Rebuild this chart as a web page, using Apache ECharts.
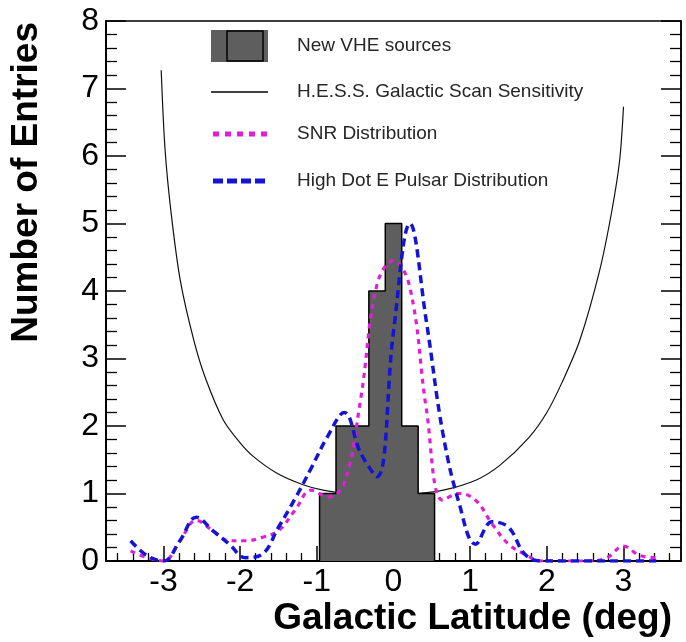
<!DOCTYPE html>
<html>
<head>
<meta charset="utf-8">
<script src="https://cdn.jsdelivr.net/npm/echarts@6/dist/echarts.min.js"></script>
<style>
html, body { margin: 0; padding: 0; background: #fff; }
#chart { width: 686px; height: 642px; }
</style>
</head>
<body>
<div id="chart"></div>
<script>
// Latitude binning used by all three histograms
const latMin = -3.75;
const latMax = 3.75;
const binCount = 35;

// New VHE sources per latitude bin
const newSourceCounts = [
  0, 0, 0, 0, 0, 0, 0, 0, 0, 0, 0, 0, 0,
  1, 2, 2, 4, 5, 2, 1,
  0, 0, 0, 0, 0, 0, 0, 0, 0, 0, 0, 0, 0, 0, 0
];

// SNR distribution, value at each bin centre (null = not drawn)
const snrValues = [
  null, 0.15, 0.05, 0, 0.3, 0.6, 0.45, 0.3, 0.3, 0.35, 0.45, 0.75, 1.05, 0.95, 1.15,
  2.4, 4.1, 4.45, 4.05, 2.25, 0.9, 1.0, 0.9, 0.55, 0.25, 0.1,
  0, 0, 0, 0, 0.05, 0.22, 0.08, 0.05, null
];

// High Edot pulsar distribution, value at each bin centre
const pulsarValues = [
  null, 0.3, 0.08, 0, 0.3, 0.65, 0.45, 0.25, 0.05, 0.1, 0.5, 0.92, 1.38, 1.85, 2.2,
  1.6, 1.25, 3.4, 5.0, 3.55, 1.9, 0.85, 0.25, 0.58, 0.5, 0.1,
  0, 0, 0, 0, 0, 0, 0, 0, null
];

// Galactic plane scan sensitivity curve
const sensLat = [-3.03, -2.98, -2.9, -2.78, -2.6, -2.45, -2.22, -2.0, -1.83, -1.52, -1.18, -0.92,
  -0.6, -0.2, 0.2, 0.65, 1.08, 1.39, 1.76, 2.0, 2.2, 2.43, 2.69, 2.85, 2.95, 3.0];
const sensVal = [7.27, 6.1, 5.15, 4.15, 3.25, 2.7, 2.09, 1.75, 1.55, 1.30, 1.13, 1.05,
  1.0, 0.98, 0.99, 1.05, 1.2, 1.42, 1.82, 2.2, 2.65, 3.27, 4.31, 5.2, 5.94, 6.73];

// Axis tick labels
const xTickLabels = [-3, -2, -1, 0, 1, 2, 3];

const legendNames = [
  'New VHE sources',
  'H.E.S.S. Galactic Scan Sensitivity',
  'SNR Distribution',
  'High Dot E Pulsar Distribution'
];

const FONT = '"Liberation Sans", Arial, Helvetica, sans-serif';
const HIST_FILL = '#5e5e5e';
const SNR_COLOR = '#e01ed8';
const PSR_COLOR = '#1414d6';

const binWidth = (latMax - latMin) / binCount;
const binCentre = i => latMin + (i + 0.5) * binWidth;

// Step outline of the source histogram (outer edges only)
const histPoints = [];
histPoints.push([latMin, 0]);
newSourceCounts.forEach((c, i) => {
  const lo = latMin + i * binWidth;
  const hi = lo + binWidth;
  histPoints.push([lo, c]);
  histPoints.push([hi, c]);
});
histPoints.push([latMax, 0]);

const snrPoints = snrValues.map((v, i) => [binCentre(i), v]);
const pulsarPoints = pulsarValues.map((v, i) => [binCentre(i), v]);
const sensPoints = sensLat.map((x, i) => [x, sensVal[i]]);

// Minor tick positions every 0.2 deg
const minorTicks = [];
for (let k = -18; k <= 18; k++) {
  if (k % 5 !== 0) minorTicks.push(k / 5);
}

const chart = echarts.init(document.getElementById('chart'), null, { renderer: 'canvas' });

// Legend drawn at fixed spots inside the frame
const legX = 211, legW = 57, textX = 297;
const rowY = [46, 92, 134, 181];
const legendGraphics = [
  { type: 'rect', shape: { x: legX, y: 30, width: legW, height: 32 }, style: { fill: HIST_FILL } },
  { type: 'rect', shape: { x: 227, y: 31, width: 36, height: 30 }, style: { fill: null, stroke: '#000', lineWidth: 1.5 } },
  { type: 'line', shape: { x1: legX, y1: rowY[1], x2: legX + legW, y2: rowY[1] }, style: { stroke: '#000', lineWidth: 1.3 } },
  { type: 'line', shape: { x1: legX + 2, y1: rowY[2], x2: legX + legW, y2: rowY[2] }, style: { stroke: SNR_COLOR, lineWidth: 5, lineDash: [6, 6] } },
  { type: 'line', shape: { x1: legX + 2, y1: rowY[3], x2: legX + legW, y2: rowY[3] }, style: { stroke: PSR_COLOR, lineWidth: 5, lineDash: [10, 4] } }
];
legendNames.forEach((name, i) => {
  legendGraphics.push({
    type: 'text', x: textX, y: rowY[i],
    style: { text: name, font: '19px ' + FONT, fill: '#262626', align: 'left', verticalAlign: 'middle', textAlign: 'left', textVerticalAlign: 'middle' }
  });
});

const option = {
  animation: false,
  backgroundColor: '#fff',
  grid: {
    left: 106, top: 21, width: 575, height: 540,
    show: true, borderColor: '#000', borderWidth: 1.5, backgroundColor: 'transparent'
  },
  xAxis: [
    {
      type: 'value', min: latMin, max: latMax, position: 'bottom',
      axisLine: { show: true, onZero: false, lineStyle: { color: '#000', width: 2 } },
      axisTick: { show: true, inside: true, length: 15, customValues: xTickLabels, lineStyle: { color: '#000', width: 1.5 } },
      axisLabel: { customValues: xTickLabels, fontSize: 32, fontFamily: FONT, color: '#000', margin: 5 },
      splitLine: { show: false }
    },
    {
      type: 'value', min: latMin, max: latMax, position: 'bottom',
      axisLine: { show: false, onZero: false },
      axisTick: { show: true, inside: true, length: 8, customValues: minorTicks, lineStyle: { color: '#000', width: 1.3 } },
      axisLabel: { show: false },
      splitLine: { show: false }
    }
  ],
  yAxis: [
    {
      type: 'value', min: 0, max: 8, interval: 1, position: 'left',
      axisLine: { show: true, onZero: false, lineStyle: { color: '#000', width: 2 } },
      axisTick: { show: true, inside: true, length: 20, lineStyle: { color: '#000', width: 1.5 } },
      minorTick: { show: true, splitNumber: 5, length: 11, lineStyle: { color: '#000', width: 1.3 } },
      axisLabel: { fontSize: 32, fontFamily: FONT, color: '#000', margin: 7 },
      splitLine: { show: false }
    },
    {
      type: 'value', min: 0, max: 8, interval: 1, position: 'right',
      axisLine: { show: true, onZero: false, lineStyle: { color: '#000', width: 1.5 } },
      axisTick: { show: true, inside: true, length: 20, lineStyle: { color: '#000', width: 1.5 } },
      minorTick: { show: true, splitNumber: 5, length: 11, lineStyle: { color: '#000', width: 1.3 } },
      axisLabel: { show: false },
      splitLine: { show: false }
    }
  ],
  series: [
    {
      name: legendNames[1], type: 'line', data: sensPoints, smooth: 0.3,
      symbol: 'none', z: 1,
      lineStyle: { color: '#111', width: 1.2 }
    },
    {
      name: legendNames[0], type: 'line', data: histPoints, smooth: false,
      symbol: 'none', z: 2,
      lineStyle: { color: '#000', width: 1.5 },
      areaStyle: { color: HIST_FILL, opacity: 1 }
    },
    {
      name: legendNames[2], type: 'line', data: snrPoints, smooth: 0.4,
      symbol: 'none', z: 3, connectNulls: false,
      lineStyle: { color: SNR_COLOR, width: 3.2, type: [5, 5] }
    },
    {
      name: legendNames[3], type: 'line', data: pulsarPoints, smooth: 0.4,
      symbol: 'none', z: 4, connectNulls: false,
      lineStyle: { color: PSR_COLOR, width: 3.5, type: [8, 5] }
    }
  ],
  graphic: [
    {
      type: 'text', x: 27, y: 22, rotation: Math.PI / 2,
      style: { text: 'Number of Entries', font: 'bold 37px ' + FONT, fill: '#000', align: 'right', verticalAlign: 'middle', textAlign: 'right', textVerticalAlign: 'middle' }
    },
    {
      type: 'text', x: 672, y: 619,
      style: { text: 'Galactic Latitude (deg)', font: 'bold 37px ' + FONT, fill: '#000', align: 'right', verticalAlign: 'middle', textAlign: 'right', textVerticalAlign: 'middle' }
    }
  ].concat(legendGraphics)
};

chart.setOption(option);
</script>
</body>
</html>
